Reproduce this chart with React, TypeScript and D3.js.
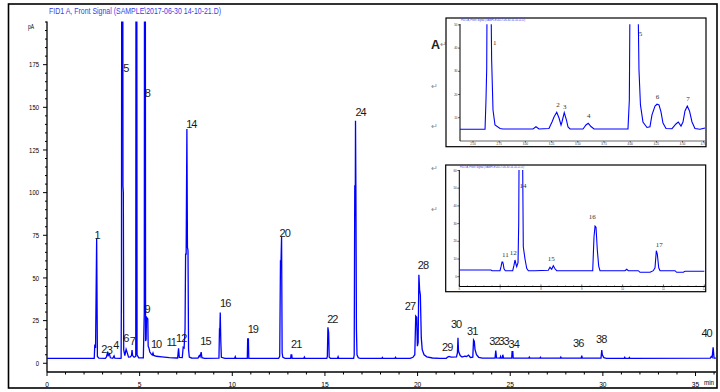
import React from 'react';
import * as d3 from 'd3';

type Pt = [number, number];

// ---------- main chromatogram (time in min, signal in pA) ----------
const mainTraceEarly: Pt[] = [
  [0, 2.9], [2.55, 2.9], [2.58, 11], [2.62, 9], [2.68, 73.3], [2.72, 4], [2.8, 3.0],
  [3.15, 2.9], [3.2, 3.5], [3.26, 5.9], [3.3, 4.5], [3.37, 5.5], [3.42, 3.2], [3.55, 2.9], [3.62, 4.3], [3.66, 3], [3.95, 2.9],
  [4.0, 3], [4.02, 50], [4.04, 400], [4.08, 400], [4.1, 104], [4.12, 100], [4.14, 8], [4.2, 4.5],
  [4.27, 8.2], [4.32, 6.5], [4.4, 3.6], [4.5, 3.8], [4.56, 4.5], [4.59, 7.8], [4.62, 4.5], [4.7, 3.5],
  [4.79, 4], [4.81, 400], [4.84, 400], [4.86, 5], [4.95, 3.2],
  [5.2, 3.2], [5.25, 30], [5.27, 400], [5.3, 400], [5.32, 13], [5.35, 14], [5.37, 27], [5.44, 26], [5.46, 10],
  [5.5, 9], [5.55, 6.6], [5.62, 5.5], [5.68, 4.8], [5.72, 6], [5.76, 4.6], [5.9, 4.1], [6.2, 3.8], [6.6, 3.3], [7.0, 3.1],
  [7.05, 3.1], [7.1, 8.8], [7.14, 3.5], [7.3, 3.3], [7.35, 9.4], [7.4, 9], [7.45, 20], [7.48, 64], [7.51, 64],
  [7.55, 137.3], [7.58, 68], [7.61, 66], [7.64, 8], [7.68, 3.6], [7.8, 3.1],
  [8.15, 3], [8.22, 4.5], [8.26, 3.8], [8.32, 6.5], [8.36, 3.3], [8.5, 2.9],
  [9.28, 3], [9.31, 20.5], [9.33, 20], [9.35, 29.7], [9.38, 13], [9.41, 3.5], [9.6, 2.9],
];
const mainTraceMid: Pt[] = [
  [10.13, 2.9], [10.16, 3.8], [10.19, 2.9],
  [10.81, 2.9], [10.83, 14.3], [10.87, 14.3], [10.89, 2.9],
  [12.5, 2.9], [12.56, 4], [12.6, 60], [12.63, 60], [12.66, 74.3], [12.69, 6], [12.73, 3.5], [12.85, 2.9],
  [13.15, 2.9], [13.17, 4.9], [13.21, 4.9], [13.23, 2.9],
  [13.86, 2.9], [13.89, 3.6], [13.92, 2.9],
  [15.1, 2.9], [15.13, 4], [15.16, 21.1], [15.2, 18], [15.23, 3.5], [15.3, 2.9],
  [15.68, 2.9], [15.71, 3.8], [15.74, 2.9],
  [16.55, 2.9], [16.58, 5], [16.61, 104], [16.64, 104], [16.65, 142.1], [16.67, 104], [16.7, 20], [16.73, 5], [16.8, 3.2], [16.9, 2.9],
  [18.07, 2.9], [18.1, 3.4], [18.13, 2.9], [18.78, 2.9], [18.81, 3.5], [18.84, 2.9],
  [19.6, 2.9], [19.75, 3.5], [19.85, 5], [19.9, 27.7], [19.95, 27], [19.99, 10], [20.03, 12], [20.07, 51.8],
  [20.11, 43], [20.15, 40], [20.2, 15], [20.25, 8], [20.35, 5], [20.5, 3.8], [20.8, 3.1], [21.2, 2.9],
];
const mainTraceLate: Pt[] = [
  [21.55, 2.9], [21.6, 3.5], [21.7, 4], [21.8, 3.6], [22.1, 3.8], [22.15, 6], [22.18, 15], [22.21, 7], [22.3, 4.5],
  [22.4, 3.6], [22.55, 4.2], [22.65, 4], [22.75, 4.8], [22.85, 3.4],
  [22.98, 3.6], [23.02, 13.7], [23.06, 13], [23.1, 8], [23.18, 5], [23.3, 3.5], [23.5, 3],
  [24.18, 3], [24.22, 7.4], [24.26, 3.2], [24.45, 3], [24.48, 4], [24.51, 3], [24.57, 3], [24.6, 5], [24.64, 3],
  [25.08, 3], [25.1, 6.8], [25.14, 6.8], [25.16, 3],
  [26.0, 3], [26.03, 3.6], [26.06, 3], [26.6, 3], [26.63, 3.5], [26.66, 3], [27.7, 3], [27.73, 3.6], [27.76, 3],
  [28.83, 3], [28.86, 4.5], [28.89, 3],
  [29.9, 3], [29.94, 7.8], [29.97, 5], [30.05, 3.3], [30.2, 2.9],
  [31.15, 2.9], [31.18, 3.5], [31.21, 2.9], [31.4, 2.9], [31.43, 3.4], [31.46, 2.9],
  [35.8, 3], [35.85, 4], [35.9, 3.5], [35.95, 9.4], [36.0, 3], [36.1, 3],
];

const peakLabels = ['1', '2', '3', '4', '5', '6', '7', '8', '9', '10', '11', '12', '14', '15', '16', '19', '20', '21', '22', '24', '27', '28', '29', '30', '31', '32', '33', '34', '36', '38', '40'];
const peakLabelTimes = [2.70, 3.07, 3.36, 3.71, 4.25, 4.25, 4.61, 5.42, 5.40, 5.89, 6.70, 7.24, 7.79, 8.55, 9.62, 11.11, 12.83, 13.45, 15.40, 16.92, 19.59, 20.29, 21.60, 22.08, 22.95, 24.14, 24.64, 25.19, 28.67, 29.91, 35.6];
const peakLabelValues = [72.8, 6.2, 5.5, 8.4, 170.9, 12.7, 10.7, 156.2, 29.3, 8.8, 10.1, 12.7, 137.7, 10.7, 33.2, 17.9, 73.8, 8.8, 23.8, 145.1, 31.2, 55.1, 7.4, 20.5, 16.6, 10.7, 10.7, 8.8, 9.4, 12.1, 15.2];

const yMajorTicks = [0, 25, 50, 75, 100, 125, 150, 175];
const xMajorTicks = [0, 5, 10, 15, 20, 25, 30, 35];

const titleText = 'FID1 A, Front Signal (SAMPLE\\2017-06-30 14-10-21.D)';

// ---------- inset A (peaks 1-7) ----------
const insetATrace: Pt[] = [
  [2.376, 5.0], [2.615, 5.0], [2.624, 17.6], [2.631, 31.4], [2.634, 60], [2.672, 60], [2.678, 34.9], [2.691, 13.3],
  [2.71, 6.85], [2.758, 5.34], [2.786, 5.13], [3.073, 5.13], [3.101, 6.12], [3.13, 5.13], [3.225, 5.34], [3.254, 8.15],
  [3.273, 10.3], [3.299, 12.33], [3.321, 9.87], [3.34, 6.85], [3.349, 8.15], [3.371, 12.16], [3.392, 9.0], [3.407, 5.99],
  [3.426, 5.13], [3.55, 5.13], [3.578, 6.85], [3.6, 7.59], [3.626, 6.2], [3.655, 5.13], [3.979, 5.13], [3.992, 17.6],
  [3.998, 60], [4.075, 60], [4.084, 30.6], [4.098, 15.5], [4.122, 8.15], [4.16, 5.78], [4.189, 6.12], [4.208, 11.2],
  [4.237, 15.0], [4.256, 15.8], [4.275, 15.5], [4.294, 12.5], [4.313, 7.7], [4.342, 5.34], [4.399, 5.26], [4.437, 7.3],
  [4.459, 8.15], [4.485, 6.4], [4.504, 8.15], [4.523, 12.9], [4.545, 15.0], [4.566, 12.9], [4.59, 8.15], [4.618, 5.34],
  [4.666, 5.0], [4.695, 5.34], [4.714, 5.56],
];
const insetALabels = ['1', '2', '3', '4', '5', '6', '7'];
const insetALabelTimes = [2.707, 3.311, 3.375, 3.604, 4.098, 4.261, 4.552];
const insetALabelValues = [41.3, 14.7, 13.75, 9.74, 45.2, 18.06, 17.2];
const insetAYTicks = [10, 20, 30, 40, 50];
const insetAXTicks = [2.5, 2.75, 3.0, 3.25, 3.5, 3.75, 4.0, 4.25, 4.5, 4.7];

// ---------- inset B (peaks 11-17) ----------
const insetBTrace: Pt[] = [
  [6.0, 3.79], [6.776, 3.79], [6.8, 3.39], [6.997, 3.39], [7.021, 5.5], [7.046, 8.3], [7.063, 8.3], [7.078, 7],
  [7.095, 4.5], [7.127, 3.39], [7.308, 3.39], [7.34, 6.5], [7.364, 9.44], [7.389, 7], [7.406, 5.65], [7.438, 8],
  [7.455, 30], [7.469, 90], [7.543, 90], [7.567, 16.9], [7.609, 10], [7.651, 4.75], [7.69, 3.39], [7.854, 3.39],
  [8.18, 3.6], [8.221, 5.3], [8.263, 4.2], [8.302, 6.2], [8.344, 4.5], [8.385, 3.39], [9.267, 3.39], [9.299, 22.6],
  [9.324, 28.6], [9.348, 27.9], [9.38, 15.1], [9.414, 6], [9.446, 3.39], [10.058, 3.39], [10.1, 4.18], [10.139, 3.39],
  [10.384, 3.39], [10.426, 2.49], [10.671, 2.49], [10.751, 3.39], [10.793, 5], [10.825, 14.7], [10.849, 12.8],
  [10.884, 5], [10.916, 3.39], [11.283, 3.39], [11.324, 2.49], [11.486, 2.49], [11.528, 3.05], [12.0, 3.05],
];
const insetBLabels = ['11', '12', '14', '15', '16', '17'];
const insetBLabelTimes = [7.131, 7.323, 7.56, 8.253, 9.255, 10.898];
const insetBLabelValues = [11.3, 12.1, 49.9, 8.87, 32.6, 16.9];
const insetBYTicks = [0, 10, 20, 30, 40, 50, 60];
const insetBXTicks = [6, 7, 8, 9, 10, 11, 12];

const paraMarks = ['↵', '↵', '↵', '↵'];
const paraMarkY = [86, 126, 168, 209];

export default function App() {
  const mainTrace = [...mainTraceEarly, ...mainTraceMid, ...mainTraceLate];
  const x = d3.scaleLinear().domain([0, 36.1]).range([47, 715.9]);
  const y = d3.scaleLinear().domain([-5, 200]).range([371.8, 22]);
  const mainLine = d3.line<Pt>().x(d => x(d[0])).y(d => y(d[1]));

  const xA = d3.scaleLinear().domain([2.376, 4.714]).range([460, 705]);
  const yA = d3.scaleLinear().domain([0, 50]).range([140.9, 24.9]);
  const lineA = d3.line<Pt>().x(d => xA(d[0])).y(d => yA(d[1]));

  const xB = d3.scaleLinear().domain([6, 12]).range([459.3, 704.3]);
  const yB = d3.scaleLinear().domain([0, 60]).range([276.7, 170.5]);
  const lineB = d3.line<Pt>().x(d => xB(d[0])).y(d => yB(d[1]));

  const yMinor = d3.range(0, 201, 5).filter(v => v % 25 !== 0 || v === 200);
  const xMinor = d3.range(0, 37, 1).filter(v => v % 5 !== 0);
  const xBMinor = d3.range(6, 12.01, 0.2).filter(v => Math.abs(v - Math.round(v)) > 0.01);

  const sans = "'Liberation Sans', Arial, sans-serif";
  const serif = "'Liberation Serif', 'Times New Roman', serif";

  return (
    <svg width={720} height={392} style={{ position: 'absolute', left: 0, top: 0, background: '#fff' }} fontFamily={sans}>
      <defs>
        <clipPath id="mainClip"><rect x={47} y={21.5} width={670} height={350.3} /></clipPath>
        <clipPath id="clipA"><rect x={460} y={24.3} width={246} height={116.6} /></clipPath>
        <clipPath id="clipB"><rect x={459.3} y={170} width={246} height={116} /></clipPath>
      </defs>
      <rect x={0} y={0} width={720} height={392} fill="#fff" />

      {/* title */}
      <text x={49} y={14} fontSize={8.5} fill="#3a3ae8" textLength={172} lengthAdjust="spacingAndGlyphs">{titleText}</text>

      {/* y axis */}
      <line x1={47} x2={47} y1={21.5} y2={372} stroke="#000" strokeWidth={1.3} />
      <text x={34} y={29} fontSize={6.5} textAnchor="end" fill="#000" textLength={6} lengthAdjust="spacingAndGlyphs">pA</text>
      {yMajorTicks.map(v => (
        <g key={'ym' + v}>
          <line x1={43} x2={47} y1={y(v)} y2={y(v)} stroke="#000" strokeWidth={1} />
          <text x={39} y={y(v) + 2.6} fontSize={7.5} textAnchor="end" fill="#000"
            textLength={String(v).length * 3.3} lengthAdjust="spacingAndGlyphs">{v}</text>
        </g>
      ))}
      {yMinor.map(v => (
        <line key={'yn' + v} x1={45} x2={47} y1={y(v)} y2={y(v)} stroke="#000" strokeWidth={1} />
      ))}

      {/* x axis */}
      <line x1={47} x2={716} y1={372} y2={372} stroke="#000" strokeWidth={1.3} />
      {xMajorTicks.map(v => (
        <g key={'xm' + v}>
          <line x1={x(v)} x2={x(v)} y1={372} y2={376} stroke="#000" strokeWidth={1} />
          <text x={x(v)} y={386.5} fontSize={7.5} textAnchor="middle" fill="#000"
            textLength={String(v).length * 3.7} lengthAdjust="spacingAndGlyphs">{v}</text>
        </g>
      ))}
      {xMinor.map(v => (
        <line key={'xn' + v} x1={x(v)} x2={x(v)} y1={372} y2={374.5} stroke="#000" strokeWidth={1} />
      ))}
      <text x={709} y={385} fontSize={7} textAnchor="middle" fill="#000" textLength={10} lengthAdjust="spacingAndGlyphs">min</text>

      {/* main trace */}
      <path d={mainLine(mainTrace) || ''} fill="none" stroke="#0000ff" strokeWidth={1.3} clipPath="url(#mainClip)" strokeLinejoin="miter" />

      {/* peak labels */}
      {peakLabels.map((s, i) => (
        <text key={'pl' + i} x={x(peakLabelTimes[i])} y={y(peakLabelValues[i])} fontSize={11} textAnchor="middle"
          fill="#1a1a1a" letterSpacing={-1}>{s}</text>
      ))}

      {/* outer frame */}
      <rect x={8.5} y={4} width={708.5} height={384} fill="none" stroke="#000" strokeWidth={1.6} />

      <text x={431} y={48.5} fontSize={12.5} fontWeight="bold" fill="#222">A</text>
      <text x={440} y={47} fontSize={8} fill="#8a8a8a">↵</text>
      {paraMarks.map((m, i) => (
        <text key={'pm' + i} x={431} y={paraMarkY[i] + 3} fontSize={8} fill="#8a8a8a">{m}</text>
      ))}

      {/* inset A */}
      <rect x={446} y={18} width={260} height={128.7} fill="#fff" stroke="#000" strokeWidth={1.2} />
      <text x={461} y={20.5} fontSize={2.8} fill="#3a3ae8" textLength={64} lengthAdjust="spacingAndGlyphs">{titleText}</text>
      <line x1={460} x2={460} y1={24} y2={141} stroke="#000" strokeWidth={1} />
      <line x1={460} x2={705} y1={141} y2={141} stroke="#000" strokeWidth={0.6} />
      {insetAYTicks.map(v => (
        <g key={'ay' + v}>
          <line x1={458} x2={460} y1={yA(v)} y2={yA(v)} stroke="#000" strokeWidth={0.6} />
          <text x={457.5} y={yA(v) + 1} fontSize={3} textAnchor="end" fill="#333">{v}</text>
        </g>
      ))}
      {insetAXTicks.map(v => (
        <g key={'ax' + v}>
          <line x1={xA(v)} x2={xA(v)} y1={141} y2={142.5} stroke="#000" strokeWidth={0.6} />
          <text x={xA(v)} y={145} fontSize={2.8} textAnchor="middle" fill="#333">{v.toFixed(2)}</text>
        </g>
      ))}
      <path d={lineA(insetATrace) || ''} fill="none" stroke="#0000ff" strokeWidth={1.1} clipPath="url(#clipA)" />
      {insetALabels.map((s, i) => (
        <text key={'al' + i} x={xA(insetALabelTimes[i])} y={yA(insetALabelValues[i])} fontSize={7} textAnchor="middle"
          fill="#333" fontFamily={serif}>{s}</text>
      ))}

      {/* inset B */}
      <rect x={445.7} y={165} width={260} height={126.7} fill="#fff" stroke="#000" strokeWidth={1.2} />
      <text x={460} y={167.5} fontSize={2.8} fill="#3a3ae8" textLength={64} lengthAdjust="spacingAndGlyphs">{titleText}</text>
      <line x1={459.3} x2={459.3} y1={170} y2={286.5} stroke="#000" strokeWidth={1} />
      <line x1={459.3} x2={705} y1={286.5} y2={286.5} stroke="#000" strokeWidth={1} />
      {insetBYTicks.map(v => (
        <g key={'by' + v}>
          <line x1={457.3} x2={459.3} y1={yB(v)} y2={yB(v)} stroke="#000" strokeWidth={0.6} />
          <text x={456.8} y={yB(v) + 1} fontSize={3} textAnchor="end" fill="#333">{v}</text>
        </g>
      ))}
      {insetBXTicks.map(v => (
        <g key={'bx' + v}>
          <line x1={xB(v)} x2={xB(v)} y1={284.5} y2={286.5} stroke="#000" strokeWidth={0.6} />
          <text x={xB(v)} y={289.8} fontSize={2.8} textAnchor="middle" fill="#333">{v}</text>
        </g>
      ))}
      {xBMinor.map((v, i) => (
        <line key={'bxn' + i} x1={xB(v)} x2={xB(v)} y1={285.5} y2={286.5} stroke="#000" strokeWidth={0.5} />
      ))}
      <path d={lineB(insetBTrace) || ''} fill="none" stroke="#0000ff" strokeWidth={1.1} clipPath="url(#clipB)" />
      {insetBLabels.map((s, i) => (
        <text key={'bl' + i} x={xB(insetBLabelTimes[i])} y={yB(insetBLabelValues[i])} fontSize={7} textAnchor="middle"
          fill="#333" fontFamily={serif}>{s}</text>
      ))}
    </svg>
  );
}
